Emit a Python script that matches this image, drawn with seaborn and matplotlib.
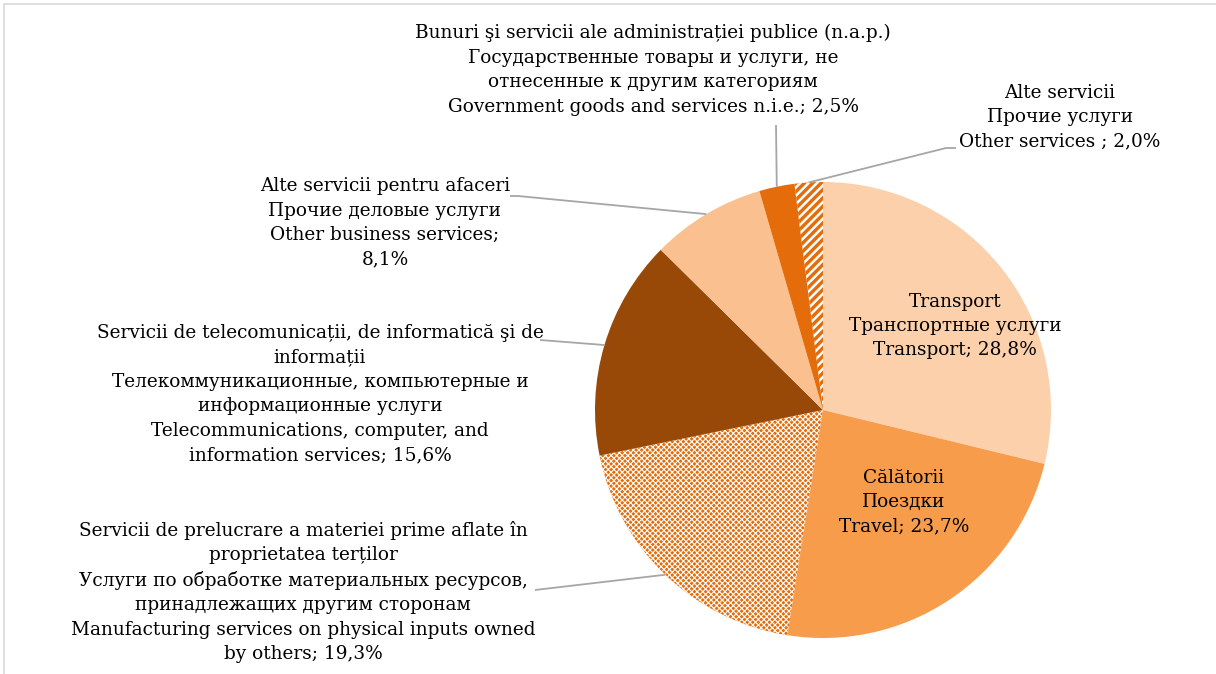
import numpy as np
import matplotlib.pyplot as plt
import seaborn as sns

# shares of services, %
categories = [
    "Transport\nТранспортные услуги\nTransport; {}",
    "Călătorii\nПоездки\nTravel; {}",
    "Servicii de prelucrare a materiei prime aflate în\nproprietatea terților\n"
    "Услуги по обработке материальных ресурсов,\nпринадлежащих другим сторонам\n"
    "Manufacturing services on physical inputs owned\nby others; {}",
    "Servicii de telecomunicații, de informatică şi de\ninformații\n"
    "Телекоммуникационные, компьютерные и\nинформационные услуги\n"
    "Telecommunications, computer, and\ninformation services; {}",
    "Alte servicii pentru afaceri\nПрочие деловые услуги\nOther business services;\n{}",
    "Bunuri şi servicii ale administrației publice (n.a.p.)\nГосударственные товары и услуги, не\n"
    "отнесенные к другим категориям\nGovernment goods and services n.i.e.; {}",
    "Alte servicii\nПрочие услуги\nOther services ; {}",
]
values = [28.8, 23.7, 19.3, 15.6, 8.1, 2.5, 2.0]

colors = ["#FBD0AB", "#F79C4B", "#E46C0A", "#984807", "#FAC08F", "#E46C0A", "#E46C0A"]
hatches = [None, None, "xxxxxx", None, None, None, "////"]
hatch_lw = [None, None, 0.8, None, None, None, 1.8]

W, H = 1216, 674
CX, CY, R = 823, H - 410, 228

# label centre, leader elbow points (pixel layout); None = label inside the slice
label_pos = [(955, H - 326), (904, H - 502), (303, H - 592), (320, H - 394),
             (385, H - 223), (653, H - 70), (1060, H - 117)]
leader = [None, None, [(535, H - 590)], [(540, H - 340)],
          [(518, H - 196), (510, H - 196)], [(776, H - 125)],
          [(946, H - 148), (956, H - 148)]]

sns.set_theme(style="white")
plt.rcParams["font.family"] = ["DejaVu Serif", "DejaVu Sans"]
plt.rcParams["hatch.linewidth"] = 0.8

fig = plt.figure(figsize=(W / 100, H / 100), dpi=100)
ax = fig.add_axes([0, 0, 1, 1])

wedges, _ = ax.pie(values, colors=colors, startangle=90, counterclock=False,
                   center=(CX, CY), radius=R, frame=True,
                   wedgeprops=dict(linewidth=0))
ax.set_xlim(0, W)
ax.set_ylim(0, H)
ax.set_aspect("equal")
ax.axis("off")
for w, h, hlw in zip(wedges, hatches, hatch_lw):
    if h:
        w.set_hatch(h)
        w.set_edgecolor("white")
        w.set_linewidth(0)
        if hasattr(w, "set_hatch_linewidth"):
            w.set_hatch_linewidth(hlw)

for w, cat, v, pos, lead in zip(wedges, categories, values, label_pos, leader):
    txt = cat.format(f"{v:.1f}%".replace(".", ","))
    ax.text(pos[0], pos[1], txt, ha="center", va="center", fontsize=13.3,
            linespacing=1.46, color="black")
    if lead:
        a = np.deg2rad((w.theta1 + w.theta2) / 2)
        xs = [CX + R * np.cos(a)] + [p[0] for p in lead]
        ys = [CY + R * np.sin(a)] + [p[1] for p in lead]
        ax.plot(xs, ys, color="#A6A6A6", lw=1.3, solid_capstyle="butt")

# frame of the chart area
ax.plot([4, 4, W], [0, H - 4, H - 4], color="#D9D9D9", lw=1.2)

fig.savefig("out.png", dpi=100)
